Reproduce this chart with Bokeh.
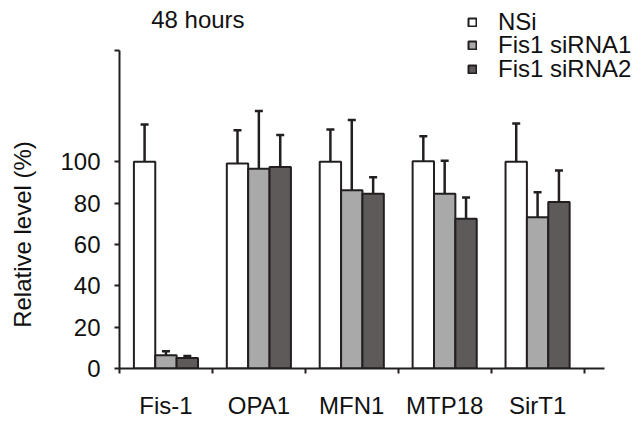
from bokeh.plotting import figure
from bokeh.models import (Range1d, FixedTicker, Legend, LegendItem, Label, LinearAxis,
                          ColumnDataSource, Whisker, TeeHead)
from bokeh.embed import file_html
from bokeh.resources import INLINE

# ---- data ----
categories = ["Fis-1", "OPA1", "MFN1", "MTP18", "SirT1"]
series_names = ["NSi", "Fis1 siRNA1", "Fis1 siRNA2"]
nsi_mean = [100.0, 99.2, 100.0, 100.3, 100.0]
nsi_err = [18.0, 16.0, 15.6, 12.0, 18.5]
si1_mean = [6.4, 96.6, 86.2, 84.5, 73.2]
si1_err = [2.0, 28.0, 34.0, 16.0, 12.0]
si2_mean = [5.1, 97.5, 84.5, 72.4, 80.5]
si2_err = [0.9, 15.5, 8.0, 10.3, 15.3]
y_ticks = [0, 20, 40, 60, 80, 100]
title_text = "48 hours"
y_label_text = "Relative level (%)"

# ---- style ----
FONT = "Liberation Sans"
FS = "24px"
INK = "#231f20"
TXT = "#111111"
colors = ["#ffffff", "#a9a9a9", "#5e5a5a"]
BAR_W = 0.23
Y_AXIS_TOP = 153.6
Y_END = 178.0
X_AXIS_END = 5.215
X_END = 5.64
LEGEND_X = 348
LEGEND_Y = [332, 309, 285]
LABEL_PAD = "\u00a0" * 15   # trailing no-break spaces push the centred label down

p = figure(width=643, height=423, output_backend="svg", toolbar_location=None,
           x_range=Range1d(0, X_END), y_range=Range1d(0, Y_END),
           min_border_left=119, min_border_right=0, min_border_top=0,
           min_border_bottom=55)
p.outline_line_color = None
p.xgrid.visible = False
p.ygrid.visible = False
p.background_fill_color = "white"
p.border_fill_color = "white"

means = [nsi_mean, si1_mean, si2_mean]
errs = [nsi_err, si1_err, si2_err]
n = len(categories)
for j in range(3):
    xs = [i + 0.5 + (j - 1) * BAR_W for i in range(n)]
    src = ColumnDataSource(dict(x=xs, top=means[j],
                                up=[m + e for m, e in zip(means[j], errs[j])]))
    r = p.vbar(x="x", top="top", width=BAR_W, bottom=0, source=src,
               fill_color=colors[j], line_color=INK, line_width=2)
    w = Whisker(base="x", lower="top", upper="up", source=src, dimension="height",
                line_color=INK, line_width=2.5, lower_head=None,
                upper_head=TeeHead(size=8, line_color=INK, line_width=2.5))
    p.add_layout(w)
    leg = Legend(items=[LegendItem(label=series_names[j], renderers=[r])],
                 location=(LEGEND_X, LEGEND_Y[j]),
                 glyph_width=10, glyph_height=10, label_standoff=21,
                 padding=0, margin=0, border_line_alpha=0,
                 background_fill_alpha=0, label_text_font=FONT,
                 label_text_font_size=FS, label_text_color=TXT)
    p.add_layout(leg, "center")

# y axis
yax = p.yaxis[0]
yax.bounds = (0, Y_AXIS_TOP)
yax.ticker = FixedTicker(ticks=y_ticks + [Y_AXIS_TOP], minor_ticks=[])
yax.major_label_overrides = {Y_AXIS_TOP: ""}
yax.axis_line_width = 2
yax.axis_line_color = INK
yax.major_tick_line_width = 2
yax.major_tick_line_color = INK
yax.major_tick_in = 0
yax.major_tick_out = 5
yax.minor_tick_line_color = None
yax.major_label_standoff = 14
yax.major_label_text_font = FONT
yax.major_label_text_font_size = FS
yax.major_label_text_color = TXT

# y axis title carried by a bare second axis
ylab = LinearAxis(ticker=FixedTicker(ticks=[], minor_ticks=[]),
                  axis_line_color=None,
                  major_tick_line_color=None, minor_tick_line_color=None,
                  major_tick_out=0, major_tick_in=0, minor_tick_out=0,
                  minor_tick_in=0, major_label_standoff=0,
                  axis_label=y_label_text + LABEL_PAD, axis_label_standoff=22,
                  axis_label_text_font=FONT, axis_label_text_font_size=FS,
                  axis_label_text_font_style="normal",
                  axis_label_text_color=TXT)
p.add_layout(ylab, "left")

# x axis
xax = p.xaxis[0]
xax.bounds = (0, X_AXIS_END)
centers = [i + 0.5 for i in range(n)]
bounds = [float(i) for i in range(n + 1)]
xax.ticker = FixedTicker(ticks=centers, minor_ticks=bounds)
xax.major_label_overrides = {c: lab for c, lab in zip(centers, categories)}
xax.axis_line_width = 2
xax.axis_line_color = INK
xax.major_tick_line_color = None
xax.major_tick_in = 0
xax.major_tick_out = 0
xax.minor_tick_line_color = INK
xax.minor_tick_line_width = 2
xax.minor_tick_in = 0
xax.minor_tick_out = 5
xax.major_label_standoff = 18
xax.major_label_text_font = FONT
xax.major_label_text_font_size = FS
xax.major_label_text_color = TXT

p.add_layout(Label(x=0.341, y=168.7, text=title_text, text_font=FONT,
                   text_font_size=FS, text_color=TXT,
                   text_align="left", text_baseline="alphabetic"))

open("out.html", "w").write(file_html(p, INLINE))
